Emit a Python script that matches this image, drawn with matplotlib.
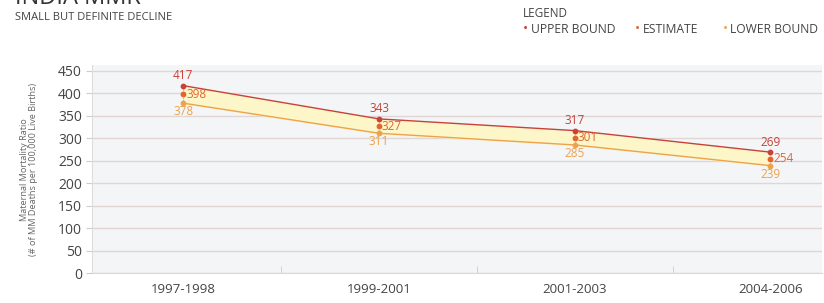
import numpy as np
import matplotlib.pyplot as plt

# Data
periods = ["1997-1998", "1999-2001", "2001-2003", "2004-2006"]
upper = [417, 343, 317, 269]
estimate = [398, 327, 301, 254]
lower = [378, 311, 285, 239]

c_upper = "#c8413a"
c_est = "#e0652f"
c_lower = "#eea24a"
c_fill = "#fcf6c8"
c_text = "#444444"

plt.rcParams["font.family"] = ["Open Sans", "DejaVu Sans"]

fig = plt.figure(figsize=(8.24, 3.03), dpi=100)
ax = fig.add_axes([0.112, 0.099, 0.886, 0.685])
ax.set_facecolor("#f3f5f7")

x = np.arange(len(periods))

# band between bounds
ax.fill_between(x, lower, upper, color=c_fill, zorder=1)
ax.plot(x, upper, color=c_upper, lw=1.0, zorder=2)
ax.plot(x, lower, color=c_lower, lw=1.0, zorder=2)
ax.vlines(x, lower, upper, color=c_est, lw=0.6, linestyles=":", zorder=2)
ax.scatter(x, upper, s=10, color=c_upper, zorder=3)
ax.scatter(x, estimate, s=10, color=c_est, zorder=3)
ax.scatter(x, lower, s=10, color=c_lower, zorder=3)

# value labels
for xi, u, e, l in zip(x, upper, estimate, lower):
    ax.annotate(str(u), (xi, u), xytext=(0, 2.5), textcoords="offset points",
                ha="center", va="bottom", fontsize=8.5, color=c_upper)
    ax.annotate(str(e), (xi, e), xytext=(2, 0), textcoords="offset points",
                ha="left", va="center", fontsize=8.5, color=c_est)
    ax.annotate(str(l), (xi, l), xytext=(0, -1.5), textcoords="offset points",
                ha="center", va="top", fontsize=8.5, color=c_lower)

ax.set_yticks(np.arange(0, 451, 50))
ax.yaxis.grid(True, color="#e2d6d4", lw=1.0)
ax.set_axisbelow(True)

ax.set_xticks(x)
ax.set_xticklabels(periods, fontsize=9.5, color=c_text)
ax.set_xticks(x[:-1] + 0.5, minor=True)
ax.tick_params(axis="x", which="major", length=0, pad=7)
ax.tick_params(axis="x", which="minor", length=5, color="#cccccc", direction="in")
ax.tick_params(axis="y", labelsize=10, colors=c_text, length=4, color="#cccccc")

ax.set_ylim(0, 462)
ax.set_xlim(-0.465, 3.265)

for side in ["top", "right"]:
    ax.spines[side].set_visible(False)
ax.spines["left"].set_color("#dddddd")
ax.spines["bottom"].set_color("#e2d6d4")

ax.set_ylabel("Maternal Mortality Ratio\n(# of MM Deaths per 100,000 Live Births)",
              fontsize=6.6, color="#666666", labelpad=14, linespacing=1.1)

# titles (the big title is cropped at the top edge, as in the source image)
fig.text(0.018, 1.045, "INDIA MMR", fontsize=17, color="#333333", va="top")
fig.text(0.018, 0.943, "SMALL BUT DEFINITE DECLINE", fontsize=8, color="#444444",
         va="center")

# custom legend
fig.text(0.635, 0.955, "LEGEND", fontsize=8.5, color="#444444", va="center")
leg_items = [("UPPER BOUND", c_upper, 0.635), ("ESTIMATE", c_est, 0.771),
             ("LOWER BOUND", c_lower, 0.877)]
for name, col, xp in leg_items:
    fig.text(xp, 0.903, "\u2022", fontsize=10, color=col, va="center")
    fig.text(xp + 0.009, 0.903, name, fontsize=8.7, color="#444444", va="center")

fig.savefig("out.png", dpi=100)
